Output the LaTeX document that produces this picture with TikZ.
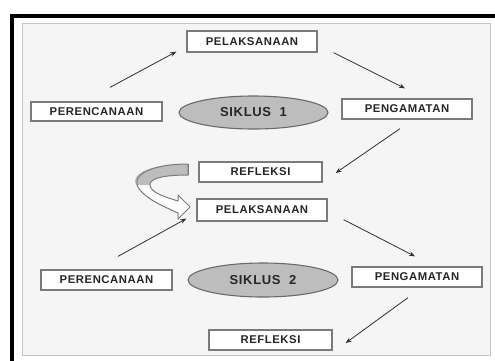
\documentclass[tikz,border=0pt]{standalone}
\usepackage{fontspec}
\setmainfont{Liberation Sans}
\newfontfamily\lblfont[LetterSpace=5]{Liberation Sans Bold}
\usetikzlibrary{arrows.meta,calc,shapes.geometric}
\definecolor{txt}{HTML}{262626}
\definecolor{bord}{HTML}{7A7A7A}
\definecolor{panel}{HTML}{F5F5F5}
\definecolor{panelb}{HTML}{C4C4C4}
\definecolor{ell}{HTML}{BDBDBD}
\definecolor{ellb}{HTML}{6A6A6A}
\definecolor{arrc}{HTML}{303030}
\tikzset{
  box/.style={draw=bord,line width=1.3pt,fill=white,minimum height=20pt,inner sep=0pt,
    text=txt,font=\lblfont\fontsize{11.3}{13}\selectfont},
  cyc/.style={ellipse,draw=ellb,line width=1.1pt,fill=ell,inner sep=0pt,
    text=txt,font=\lblfont\fontsize{13}{15}\selectfont},
  arr/.style={draw=arrc,line width=0.8pt,-{Stealth[length=6pt,width=4.5pt]}},
}
\begin{document}
\begin{tikzpicture}[x=1pt,y=-1pt]
\useasboundingbox (0,0) rectangle (495,360);
\fill[white] (0,0) rectangle (495,360);
% outer black frame
\draw[black,line width=4pt] (12,362) -- (12,16) -- (497,16);
% panel
\draw[panelb,fill=panel,line width=1pt] (22,23) rectangle (490,355);

% cycle 1
\node[box,minimum width=130pt,minimum height=21pt] (P1) at (252,41.5) {PELAKSANAAN};
\node[box,minimum width=131pt,minimum height=19pt] (R1) at (96.5,111.5) {PERENCANAAN};
\node[cyc,minimum width=149pt,minimum height=33pt] (S1) at (253.5,112.5) {SIKLUS\ \ 1};
\node[box,minimum width=130pt] (G1) at (407,109) {PENGAMATAN};
\node[box,minimum width=123pt] (F1) at (260.5,172) {REFLEKSI};

% cycle 2
\node[box,minimum width=130pt,minimum height=22pt] (P2) at (262,210) {PELAKSANAAN};
\node[box,minimum width=131pt] (R2) at (106.5,280) {PERENCANAAN};
\node[cyc,minimum width=150pt,minimum height=34pt] (S2) at (263,280) {SIKLUS\ \ 2};
\node[box,minimum width=130pt] (G2) at (417,277) {PENGAMATAN};
\node[box,minimum width=123pt] (F2) at (270.5,340) {REFLEKSI};

% arrows cycle 1
\draw[arr] ($(R1.north)+(13.5,-14)$) -- ($(P1.south west)+(-10,-1)$);
\draw[arr] ($(P1.south east)+(16,0)$) -- ($(G1.north)+(-2,-10)$);
\draw[arr] ($(G1.south)+(-7,9)$) -- ($(F1.east)+(13,1)$);
% arrows cycle 2
\draw[arr] ($(R2.north)+(11.5,-13)$) -- ($(P2.south west)+(-10,-3)$);
\draw[arr] ($(P2.south east)+(16,-2)$) -- ($(G2.north)+(-2,-10)$);
\draw[arr] ($(G2.south)+(-9,10)$) -- ($(F2.east)+(13,3)$);

% curved block arrow from REFLEKSI to PELAKSANAAN
\fill[white] (188,164) .. controls (150,164) and (128,176) .. (140,190)
  .. controls (148,200) and (165,207) .. (178,213) -- (178,219) -- (190,207)
  -- (178,195) -- (178,201) .. controls (165,197) and (152,193) .. (150,186)
  .. controls (148,178) and (165,175) .. (188,175) -- cycle;
\fill[ell] (188,164) .. controls (150,164) and (130,174) .. (136,185)
  -- (150,185) .. controls (150,178) and (165,175) .. (188,175) -- cycle;
\draw[bord,line width=1pt,line join=round] (188,164) .. controls (150,164) and (128,176) .. (140,190)
  .. controls (148,200) and (165,207) .. (178,213) -- (178,219) -- (190,207)
  -- (178,195) -- (178,201) .. controls (165,197) and (152,193) .. (150,186)
  .. controls (148,178) and (165,175) .. (188,175) -- cycle;
\draw[bord,line width=0.8pt] (188,164) -- (188,175);
\end{tikzpicture}
\end{document}
